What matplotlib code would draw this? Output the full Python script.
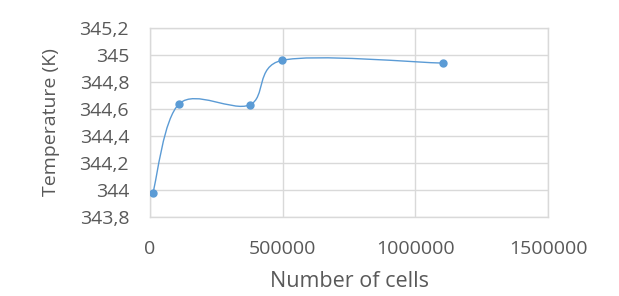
import numpy as np
import matplotlib.pyplot as plt
from matplotlib.path import Path
from matplotlib.patches import PathPatch
from matplotlib.ticker import FuncFormatter

# data
cells = [11000, 111000, 375000, 497000, 1104000]
temperature = [343.98, 344.64, 344.63, 344.96, 344.94]

x_ticks = [0, 500000, 1000000, 1500000]
y_ticks = [343.8, 344.0, 344.2, 344.4, 344.6, 344.8, 345.0, 345.2]

blue = '#5b9bd5'
grey = '#d9d9d9'
text_col = '#595959'

plt.rcParams['font.family'] = ['Open Sans', 'DejaVu Sans']

fig = plt.figure(figsize=(6.19, 2.96), dpi=100)
ax = fig.add_axes([150 / 619, 1 - 217 / 296, (548 - 150) / 619, (217 - 28) / 296])
ax.set_xlim(0, 1500000)
ax.set_ylim(343.8, 345.2)

# Excel style smoothed line, bezier control points worked out in screen space
scr = ax.transData.transform(np.column_stack([cells, temperature]))
n = len(scr)
verts = [scr[0]]
for i in range(n - 1):
    p0 = scr[i - 1] if i > 0 else scr[i]
    p1, p2 = scr[i], scr[i + 1]
    p3 = scr[i + 2] if i + 2 < n else scr[i + 1]
    d12 = np.hypot(*(p2 - p1))
    d02 = np.hypot(*(p2 - p0))
    d13 = np.hypot(*(p3 - p1))
    f1 = 1 / 6 if d02 / 6 < d12 / 2 else d12 / 2 / d02
    f2 = 1 / 6 if d13 / 6 < d12 / 2 else d12 / 2 / d13
    verts += [p1 + f1 * (p2 - p0), p2 - f2 * (p3 - p1), p2]
codes = [Path.MOVETO] + [Path.CURVE4] * (len(verts) - 1)
verts = ax.transData.inverted().transform(np.array(verts))
ax.add_patch(PathPatch(Path(verts, codes), facecolor='none', edgecolor=blue, lw=1.0, zorder=3))
ax.plot(cells, temperature, 'o', color=blue, markersize=5, zorder=4)

ax.set_xticks(x_ticks)
ax.set_yticks(y_ticks)
ax.yaxis.set_major_formatter(FuncFormatter(lambda v, p: ('%g' % round(v, 1)).replace('.', ',')))
ax.xaxis.set_major_formatter(FuncFormatter(lambda v, p: '%d' % v))
ax.grid(True, color=grey, lw=1.0)
ax.set_axisbelow(True)
for s in ax.spines.values():
    s.set_color(grey)
    s.set_linewidth(1.0)
ax.tick_params(length=0, labelsize=14, colors=text_col)
ax.tick_params(axis='y', pad=15)
ax.tick_params(axis='x', pad=16.5)

ax.set_xlabel('Number of cells', fontsize=15.5, color=text_col)
ax.set_ylabel('Temperature (K)', fontsize=14, color=text_col)
ax.xaxis.set_label_coords(0.5, -0.286)
ax.yaxis.set_label_coords(-0.226, 0.5)

plt.savefig('out.png', dpi=100)
